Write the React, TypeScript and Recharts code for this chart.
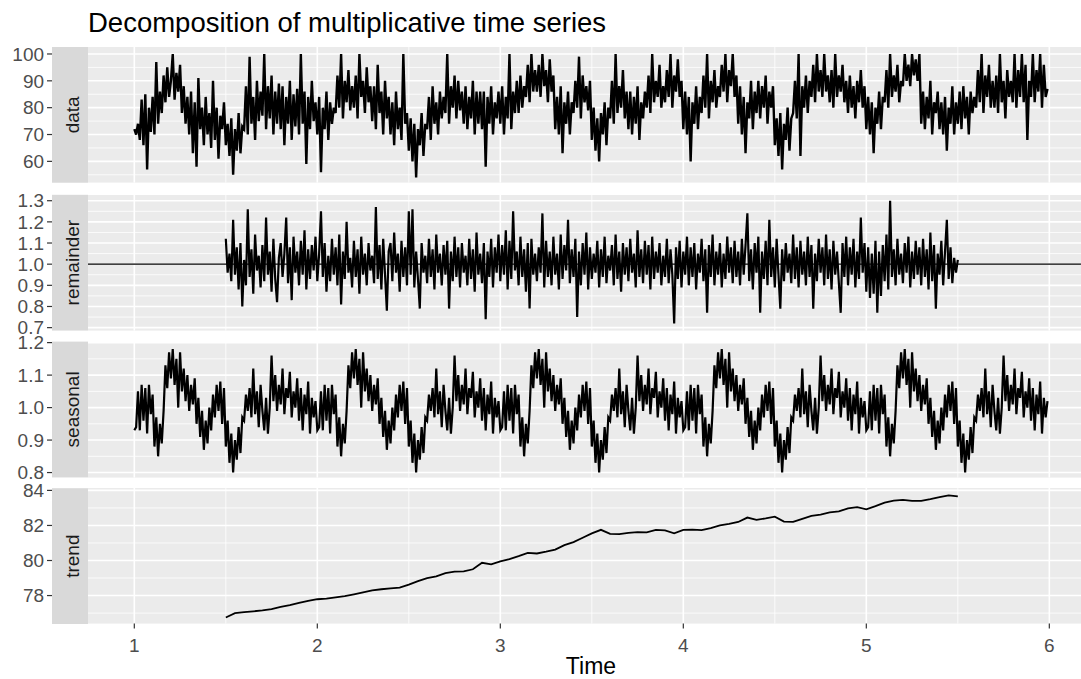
import React from 'react';
import { LineChart, Line, XAxis, YAxis, CartesianGrid, ReferenceLine } from 'recharts';

// ---------- data ----------
const DATA_START = 1;
const FREQ = 100; // observations per time unit

// data: 1.00 .. 5.99
const dataValues = [
  72, 70, 74, 68, 83, 66, 85, 57, 80, 71,
  84, 70, 97, 74, 86, 78, 92, 82, 95, 84,
  90, 100, 83, 93, 86, 96, 78, 88, 74, 84,
  70, 86, 63, 82, 58, 91, 72, 80, 66, 84,
  70, 78, 65, 90, 68, 80, 61, 77, 72, 82,
  66, 74, 62, 76, 55, 72, 64, 78, 63, 73,
  72, 88, 70, 99, 74, 84, 68, 90, 75, 86,
  77, 100, 72, 88, 76, 92, 70, 86, 74, 89,
  72, 88, 66, 84, 74, 90, 68, 85, 73, 87,
  70, 100, 74, 86, 59, 84, 72, 90, 75, 82,
  70, 84, 56, 80, 72, 86, 68, 82, 74, 80,
  78, 92, 80, 100, 76, 90, 82, 94, 79, 88,
  80, 92, 76, 100, 84, 90, 78, 95, 82, 88,
  75, 88, 72, 96, 78, 86, 70, 90, 76, 84,
  70, 82, 66, 86, 72, 80, 68, 100, 74, 78,
  64, 76, 60, 74, 54, 72, 66, 78, 62, 74,
  72, 84, 68, 88, 74, 82, 70, 86, 76, 84,
  78, 100, 74, 88, 80, 92, 76, 90, 79, 86,
  74, 88, 72, 84, 76, 90, 70, 86, 74, 86,
  72, 86, 58, 84, 74, 88, 70, 82, 76, 86,
  74, 88, 70, 84, 76, 100, 72, 86, 78, 90,
  78, 92, 80, 88, 84, 96, 82, 100, 86, 94,
  86, 96, 84, 100, 88, 94, 82, 98, 86, 92,
  72, 84, 70, 88, 63, 82, 74, 86, 70, 82,
  78, 90, 80, 99, 76, 92, 82, 88, 79, 90,
  68, 80, 64, 76, 60, 78, 70, 82, 66, 80,
  76, 90, 74, 100, 78, 88, 80, 94, 76, 86,
  72, 86, 70, 84, 74, 88, 68, 82, 76, 86,
  80, 92, 78, 100, 82, 90, 84, 96, 80, 88,
  82, 94, 84, 100, 80, 92, 86, 98, 84, 90,
  72, 86, 70, 84, 60, 82, 74, 88, 72, 84,
  78, 92, 80, 100, 76, 90, 82, 94, 80, 88,
  84, 96, 86, 100, 82, 94, 88, 100, 84, 92,
  74, 88, 70, 84, 63, 82, 76, 90, 72, 86,
  78, 90, 76, 88, 80, 92, 74, 86, 80, 88,
  66, 76, 62, 78, 57, 74, 68, 80, 64, 76,
  78, 90, 76, 100, 62, 88, 80, 92, 78, 90,
  84, 96, 82, 100, 86, 94, 84, 100, 86, 92,
  82, 94, 80, 100, 84, 92, 86, 96, 82, 90,
  78, 92, 80, 88, 76, 90, 82, 94, 80, 88,
  72, 84, 70, 82, 63, 80, 74, 86, 72, 84,
  82, 94, 80, 100, 84, 92, 86, 96, 82, 90,
  88, 100, 90, 96, 88, 100, 92, 98, 90, 100,
  74, 86, 72, 84, 76, 90, 70, 82, 78, 86,
  72, 82, 70, 84, 64, 80, 74, 88, 70, 82,
  74, 86, 72, 88, 76, 84, 70, 86, 78, 84,
  80, 94, 82, 100, 78, 92, 84, 96, 80, 90,
  80, 92, 78, 100, 82, 90, 76, 94, 84, 90,
  82, 100, 80, 94, 84, 100, 82, 96, 68, 90,
  84, 100, 82, 94, 86, 100, 80, 96, 84, 87,
];

// remainder: 1.50 .. 5.50
const REMAINDER_START = 1.5;
const remainderValues = [
  1.12, 0.96, 1.05, 0.92, 1.21, 0.95, 1.08, 0.88, 1.10, 0.80,
  1.02, 0.90, 1.26, 0.94, 1.07, 0.86, 1.14, 0.97, 1.04, 0.89,
  1.09, 0.92, 1.22, 0.95, 1.06, 0.87, 1.12, 0.93, 0.82, 1.03,
  1.10, 0.94, 1.05, 1.22, 0.91, 1.08, 0.83, 1.13, 0.96, 1.06,
  0.90, 1.11, 0.95, 1.16, 0.88, 1.07, 0.93, 1.09, 0.97, 1.13,
  0.92, 1.05, 1.25, 0.94, 1.10, 0.87, 1.04, 0.92, 1.12, 0.95,
  1.08, 0.90, 1.14, 0.81, 1.06, 0.93, 1.20, 0.96, 1.03, 0.89,
  1.11, 0.94, 1.07, 0.86, 1.13, 0.95, 1.05, 0.90, 1.10, 0.97,
  1.04, 0.91, 1.27, 0.93, 1.09, 0.88, 1.12, 0.95, 0.78, 1.06,
  1.10, 0.92, 1.15, 0.96, 1.05, 0.87, 1.11, 0.94, 1.08, 0.90,
  1.25, 0.95, 1.26, 0.89, 1.06, 0.93, 0.79, 1.10, 0.96, 1.04,
  0.91, 1.12, 0.94, 1.07, 0.88, 1.14, 0.96, 1.05, 0.90, 1.09,
  0.95, 1.11, 0.79, 1.06, 0.92, 1.13, 0.94, 1.08, 0.89, 1.10,
  0.96, 1.04, 0.90, 1.12, 0.93, 1.07, 0.87, 1.15, 0.95, 1.05,
  0.91, 1.10, 0.74, 1.06, 0.94, 1.12, 0.89, 1.08, 0.96, 1.14,
  0.92, 1.09, 0.95, 1.16, 0.88, 1.11, 0.93, 1.25, 0.97, 1.06,
  0.90, 1.13, 0.94, 1.07, 0.87, 1.10, 0.79, 1.12, 0.95, 1.05,
  0.92, 1.08, 0.96, 1.24, 0.89, 1.11, 0.94, 1.06, 0.90, 1.13,
  0.95, 1.05, 0.88, 1.14, 0.93, 1.09, 0.97, 1.21, 0.91, 1.07,
  0.94, 1.12, 0.75, 1.06, 0.90, 1.10, 0.95, 1.15, 0.88, 1.08,
  0.93, 1.05, 0.96, 1.11, 0.89, 1.07, 0.94, 1.13, 0.91, 1.04,
  0.97, 1.09, 0.90, 1.14, 0.93, 1.06, 0.87, 1.10, 0.95, 1.08,
  0.92, 1.12, 0.96, 1.05, 0.89, 1.16, 0.94, 1.07, 0.91, 1.11,
  0.95, 1.09, 0.88, 1.13, 0.93, 1.06, 0.96, 1.10, 0.90, 1.04,
  0.94, 1.12, 0.91, 1.07, 0.95, 0.72, 1.08, 0.93, 1.11, 0.89,
  1.06, 0.95, 1.13, 0.90, 1.08, 0.94, 1.10, 0.88, 1.05, 0.96,
  1.12, 0.92, 1.07, 0.77, 1.09, 0.94, 1.14, 0.90, 1.06, 0.95,
  1.10, 0.89, 1.05, 0.93, 1.13, 0.96, 1.08, 0.91, 1.11, 0.94,
  1.06, 0.90, 1.12, 0.95, 1.09, 1.24, 0.92, 1.07, 0.88, 1.10,
  0.96, 1.13, 0.77, 1.06, 0.93, 1.11, 0.90, 1.21, 0.94, 1.08,
  0.89, 1.12, 0.95, 0.79, 1.07, 0.92, 1.10, 0.96, 1.05, 0.91,
  1.14, 0.93, 1.08, 0.89, 1.11, 0.95, 1.06, 0.90, 1.13, 0.94,
  1.09, 0.79, 1.05, 0.92, 1.12, 0.96, 1.08, 0.90, 1.14, 0.93,
  1.07, 0.88, 1.11, 0.95, 1.06, 0.91, 0.77, 1.10, 0.94, 1.13,
  0.90, 1.08, 0.95, 1.12, 0.89, 1.06, 0.93, 1.22, 0.96, 1.10,
  0.87, 1.08, 0.84, 1.05, 0.86, 1.11, 0.77, 1.06, 0.85, 1.09,
  0.92, 1.14, 0.88, 1.30, 0.94, 1.07, 0.90, 1.12, 0.95, 1.05,
  0.91, 1.10, 0.96, 1.13, 0.89, 1.06, 0.93, 1.11, 0.95, 1.08,
  0.90, 1.12, 0.94, 1.07, 0.88, 1.15, 0.92, 1.09, 0.79, 1.05,
  0.95, 1.11, 0.90, 1.06, 1.21, 0.93, 1.08, 0.91, 1.03, 0.96,
  1.02,
];

// seasonal: one cycle (period 1), repeated over the five periods 1..6
const SEASONAL_PERIODS = [1, 2, 3, 4, 5];
const seasonalCycle = [
  0.93, 0.94, 1.05, 0.93, 1.07, 0.96, 1.06, 0.92, 1.07, 0.98,
  1.04, 0.88, 0.97, 0.85, 0.95, 0.89, 0.99, 1.13, 1.06, 1.17,
  1.09, 1.18, 1.07, 1.15, 1.00, 1.17, 1.05, 1.12, 1.02, 1.10,
  0.99, 1.07, 1.01, 1.09, 0.95, 1.03, 0.91, 0.99, 0.87, 0.96,
  0.89, 1.00, 0.93, 1.04, 0.97, 1.07, 0.99, 1.08, 0.95, 1.06,
  0.88, 0.96, 0.83, 0.92, 0.80, 0.90, 0.84, 0.94, 0.86, 0.97,
  0.96, 1.04, 0.99, 1.06, 0.97, 1.12, 0.98, 1.05, 0.94, 1.07,
  0.99, 0.93, 1.03, 0.92, 1.00, 1.16, 1.02, 1.10, 0.99, 1.07,
  1.01, 1.12, 0.98, 1.06, 1.03, 1.11, 0.97, 1.05, 1.00, 1.09,
  0.96, 1.06, 0.93, 1.04, 0.98, 1.08, 0.92, 1.03, 0.97, 1.02,
];

// trend: 1.50 .. 5.50 every 0.05
const TREND_START = 1.5;
const TREND_STEP = 0.05;
const trendValues = [
  76.75, 77.0, 77.05, 77.1, 77.15, 77.22, 77.35, 77.45, 77.58, 77.7,
  77.79, 77.82, 77.89, 77.97, 78.07, 78.18, 78.3, 78.36, 78.41, 78.45,
  78.62, 78.82, 79.0, 79.1, 79.28, 79.36, 79.38, 79.5, 79.87, 79.78,
  79.95, 80.08, 80.25, 80.44, 80.4, 80.5, 80.62, 80.88, 81.05, 81.3,
  81.55, 81.75, 81.52, 81.5, 81.58, 81.62, 81.6, 81.75, 81.72, 81.55,
  81.75, 81.76, 81.73, 81.85, 82.0, 82.09, 82.2, 82.45, 82.32, 82.4,
  82.5, 82.22, 82.2, 82.38, 82.55, 82.62, 82.75, 82.8, 82.98, 83.05,
  82.92, 83.1, 83.3, 83.42, 83.46, 83.4, 83.4, 83.5, 83.62, 83.72,
  83.66,
];

const xTicks = [1, 2, 3, 4, 5, 6];
const xMinorGrid = [1.5, 2.5, 3.5, 4.5, 5.5];
const panelLabels = ['data', 'remainder', 'seasonal', 'trend'];
const TITLE = 'Decomposition of multiplicative time series';
const X_TITLE = 'Time';

// ---------- tables for the library ----------
const dataRows = dataValues.map((v, i) => ({ t: DATA_START + i / FREQ, v }));
const remainderRows = remainderValues.map((v, i) => ({ t: REMAINDER_START + i / FREQ, v }));
const seasonalRows = SEASONAL_PERIODS.flatMap((p) =>
  seasonalCycle.map((v, j) => ({ t: p + j / FREQ, v }))
);
const trendRows = trendValues.map((v, i) => ({ t: TREND_START + i * TREND_STEP, v }));

// ---------- layout / style ----------
const FONT = '"Liberation Sans", Arial, Helvetica, sans-serif';
const W = 1081;
const PLOT_LEFT = 52; // strip sits over 52..88
const STRIP_W = 36;
const X_DOMAIN: [number, number] = [0.5503, 6.173];
const PANEL_H = 135.6;
const PAD = 14;

const panels = [
  {
    rows: dataRows, top: 47, domain: [52.09, 102.6],
    ticks: [60, 70, 80, 90, 100], minor: [55, 65, 75, 85, 95], fmt: (v: number) => String(v),
    hline: null as number | null, width: 2.4,
  },
  {
    rows: remainderRows, top: 194.8, domain: [0.686, 1.327],
    ticks: [0.7, 0.8, 0.9, 1.0, 1.1, 1.2, 1.3], minor: [0.75, 0.85, 0.95, 1.05, 1.15, 1.25],
    fmt: (v: number) => v.toFixed(1), hline: 1, width: 2.2,
  },
  {
    rows: seasonalRows, top: 341.6, domain: [0.7845, 1.2019],
    ticks: [0.8, 0.9, 1.0, 1.1, 1.2], minor: [0.85, 0.95, 1.05, 1.15],
    fmt: (v: number) => v.toFixed(1), hline: null, width: 2.2,
  },
  {
    rows: trendRows, top: 488.4, domain: [76.4, 84.137],
    ticks: [78, 80, 82, 84], minor: [77, 79, 81, 83], fmt: (v: number) => String(v),
    hline: null, width: 1.8,
  },
];

const X_AXIS_H = 40;

export default function App() {
  return (
    <div style={{ position: 'absolute', left: 0, top: 0, width: W, height: 679, background: '#FFFFFF', overflow: 'hidden' }}>
      {panels.map((p, idx) => {
        const last = idx === panels.length - 1;
        const h = PANEL_H + PAD + (last ? X_AXIS_H : PAD);
        return (
          <div key={idx} style={{ position: 'absolute', left: 0, top: p.top - PAD, width: W, height: h }}>
            <LineChart width={W} height={h} data={p.rows} margin={{ top: PAD, right: 0, bottom: last ? 0 : PAD, left: 0 }}>
              <CartesianGrid
                fill="#EBEBEB"
                stroke="#FFFFFF"
                strokeWidth={0.8}
                horizontalValues={p.minor}
                verticalValues={xMinorGrid}
              />
              <CartesianGrid
                stroke="#FFFFFF"
                strokeWidth={1.6}
                horizontalValues={p.ticks}
                verticalValues={xTicks}
              />
              <XAxis
                type="number"
                dataKey="t"
                domain={X_DOMAIN}
                allowDataOverflow
                ticks={xTicks}
                hide={!last}
                height={X_AXIS_H}
                axisLine={false}
                tickSize={5}
                tickMargin={10}
                tickLine={{ stroke: '#333333', strokeWidth: 1.2 }}
                tick={{ fill: '#4D4D4D', fontSize: 19, fontFamily: FONT }}
                interval={0}
              />
              <YAxis
                type="number"
                domain={p.domain}
                allowDataOverflow
                ticks={p.ticks}
                width={PLOT_LEFT}
                axisLine={false}
                tickSize={5}
                tickMargin={3}
                tickLine={{ stroke: '#333333', strokeWidth: 1.2 }}
                tick={{ fill: '#4D4D4D', fontSize: 19, fontFamily: FONT }}
                tickFormatter={p.fmt}
                interval={0}
              />
              {p.hline !== null && (
                <ReferenceLine y={p.hline} stroke="#000000" strokeWidth={1.3} ifOverflow="hidden" />
              )}
              <Line
                type="linear"
                dataKey="v"
                stroke="#000000"
                strokeWidth={p.width}
                strokeLinejoin="miter"
                dot={false}
                activeDot={false}
                isAnimationActive={false}
              />
            </LineChart>
          </div>
        );
      })}
      <svg width={W} height={679} style={{ position: 'absolute', left: 0, top: 0, pointerEvents: 'none' }}>
        <text x={88} y={31.7} fontSize={27.5} fontFamily={FONT} fill="#000000">{TITLE}</text>
        {panels.map((p, idx) => {
          const cy = p.top + PANEL_H / 2;
          return (
            <g key={idx}>
              <rect x={PLOT_LEFT} y={p.top} width={STRIP_W} height={PANEL_H} fill="#D9D9D9" />
              <text
                x={79}
                y={cy}
                transform={`rotate(-90 79 ${cy})`}
                textAnchor="middle"
                fontSize={19}
                fontFamily={FONT}
                fill="#1A1A1A"
              >
                {panelLabels[idx]}
              </text>
            </g>
          );
        })}
        <text x={591} y={674} textAnchor="middle" fontSize={23} fontFamily={FONT} fill="#000000">{X_TITLE}</text>
      </svg>
    </div>
  );
}
